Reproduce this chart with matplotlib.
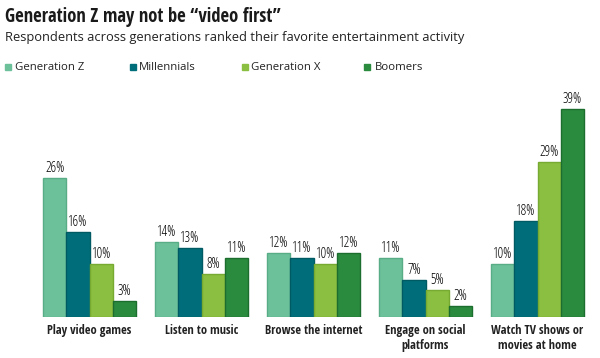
import numpy as np
import matplotlib.pyplot as plt
from matplotlib.patches import Rectangle

categories = ['Play video games', 'Listen to music', 'Browse the internet',
              'Engage on social\nplatforms', 'Watch TV shows or\nmovies at home']
series = ['Generation Z', 'Millennials', 'Generation X', 'Boomers']
gen_z = [26, 14, 12, 11, 10]
millennials = [16, 13, 11, 7, 18]
gen_x = [10, 8, 10, 5, 29]
boomers = [3, 11, 12, 2, 39]

COLORS = ['#6cc19b', '#006e7a', '#8bbf41', '#2a8a3e']
EDGES = ['#58ad86', '#005a64', '#76aa30', '#1c6e2e']

BOLD_COND = dict(family='Open Sans Condensed', fontweight='bold')
LIGHT_COND = dict(family='Open Sans', stretch='condensed', fontweight=300)

fig = plt.figure(figsize=(6, 3.58), dpi=100)
ax = fig.add_axes([33.5 / 600, 0.1145, 560 / 600, 0.5955])

x = np.arange(len(categories))
width = 93 / 4 / 112
values = [gen_z, millennials, gen_x, boomers]
for i, vals in enumerate(values):
    pos = x + (i - 1.5) * width
    ax.bar(pos, vals, width=width, color=COLORS[i], edgecolor=EDGES[i],
           linewidth=1.0)
    for p, v in zip(pos, vals):
        ax.text(p, v + 0.4, f'{v}%', ha='center', va='bottom',
                fontsize=10, color='#000000', **LIGHT_COND)

ax.set_xlim(-0.5, 4.5)
ax.set_ylim(0, 40)
ax.set_xticks(x)
ax.set_xticklabels(categories, fontsize=8.9, color='#222222',
                   linespacing=1.2, **BOLD_COND)
ax.tick_params(axis='x', length=0, pad=5)
ax.set_yticks([])
for s in ax.spines.values():
    s.set_visible(False)

fig.text(5 / 600, 1 - 17 / 358, 'Generation Z may not be “video first”',
         fontsize=13.4, color='#1a1a1a', va='center', **BOLD_COND)
fig.text(5 / 600, 1 - 38 / 358,
         'Respondents across generations ranked their favorite entertainment activity',
         fontsize=9.3, family='Open Sans', color='#222222', va='center')

leg_sq = [5, 130, 242, 364]
leg_txt = [15, 139, 251, 375]
for sx, tx, name, c in zip(leg_sq, leg_txt, series, COLORS):
    fig.patches.append(Rectangle((sx / 600, 1 - 70 / 358), 6 / 600, 6 / 358,
                                 transform=fig.transFigure, color=c))
    fig.text(tx / 600, 1 - 67 / 358, name, fontsize=8.2,
             family='Open Sans', color='#222222', va='center')

fig.savefig('out.png', dpi=100)
